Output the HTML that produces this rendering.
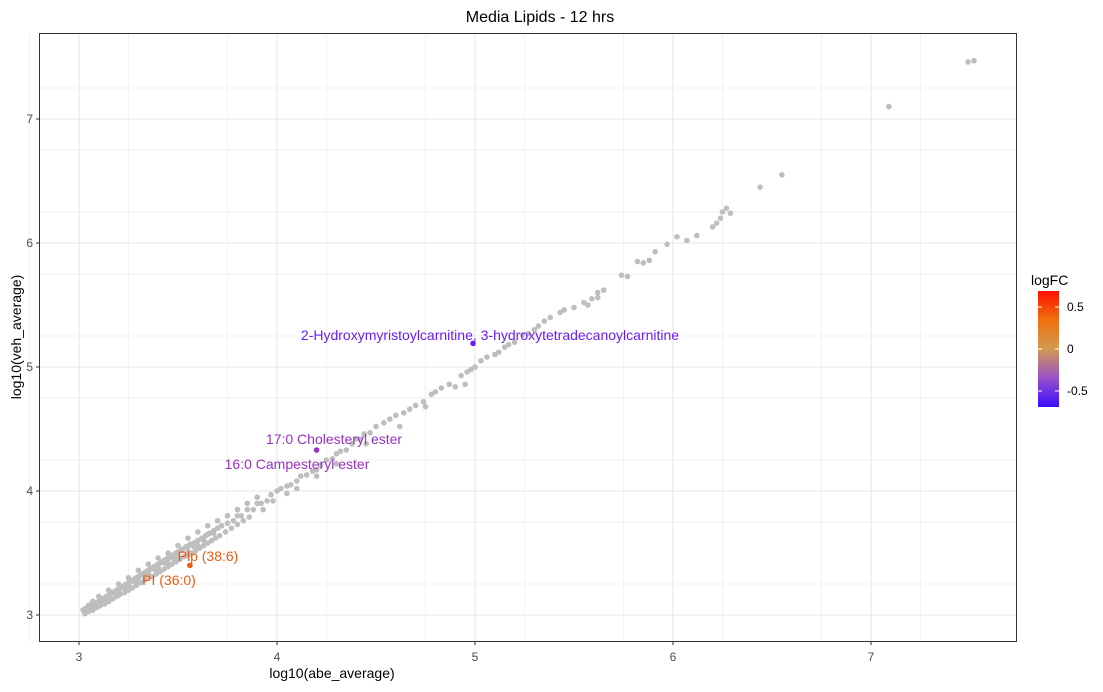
<!DOCTYPE html>
<html><head><meta charset="utf-8"><style>
body{margin:0;background:#fff;font-family:"Liberation Sans",Arial,sans-serif}
svg text{font-family:"Liberation Sans",Arial,sans-serif}
</style></head><body>
<svg id="chart" width="1103" height="687">
<defs><linearGradient id="gr" x1="0" y1="1" x2="0" y2="0">
<stop offset="0" stop-color="#3a0cff"/><stop offset="0.25" stop-color="#9a50c8"/><stop offset="0.5" stop-color="#d09a50"/><stop offset="0.75" stop-color="#f07010"/><stop offset="1" stop-color="#ff1000"/></linearGradient></defs>
<text x="540" y="22" text-anchor="middle" font-size="16" fill="#000">Media Lipids - 12 hrs</text>
<g id="grid"></g><g id="pts"></g><g id="hl"></g>
<rect x="39.5" y="33.5" width="977" height="608" fill="none" stroke="#333" stroke-width="1"/>
<g id="axes"></g>
<text x="332" y="678" text-anchor="middle" font-size="14" fill="#000">log10(abe_average)</text>
<text transform="translate(21,337) rotate(-90)" text-anchor="middle" font-size="14" fill="#000">log10(veh_average)</text>
<g>
<text x="1031" y="285" font-size="14" fill="#000">logFC</text>
<rect x="1038" y="291" width="21" height="116" fill="url(#gr)"/>
<g id="leg"></g></g>
</svg>
<script>
const xTicks=[3,4,5,6,7];
const yTicks=[3,4,5,6,7];
const legTicks=[0.5,0,-0.5];
const abe=[7.52,7.49,7.09,6.55,6.44,6.29,6.27,6.25,6.24,6.22,6.2,6.12,6.07,6.02,5.97,5.91,5.88,5.82,5.85,5.74,5.77,5.65,5.62,5.59,5.55,5.62,5.57,5.5,5.45,5.43,5.38,5.35,5.32,5.3,5.27,5.24,5.2,5.17,5.15,5.12,5.1,5.06,5.03,5.0,4.98,4.96,4.93,4.95,4.9,4.87,4.83,4.8,4.78,4.74,4.7,4.67,4.64,4.6,4.57,4.54,4.5,4.47,4.44,4.42,4.4,4.38,4.35,4.32,4.3,4.28,4.25,4.22,4.2,4.18,4.15,4.12,4.1,4.07,4.05,4.02,4.0,3.97,3.95,3.92,3.9,3.88,3.85,3.82,3.8,3.78,3.75,3.72,3.7,3.68,3.65,3.63,3.6,3.58,3.55,3.52,3.5,3.48,3.45,3.43,3.4,3.38,3.35,3.33,3.3,3.28,3.25,3.23,3.2,3.18,3.15,3.13,3.1,3.08,3.06,3.04,3.03,3.9,3.85,3.8,3.75,3.7,3.65,3.6,3.55,3.5,3.45,3.4,3.35,3.3,3.25,3.2,3.15,3.1,3.07,3.05,3.6,3.55,3.5,3.45,3.4,3.35,3.3,3.25,3.2,3.15,3.1,3.07,4.1,4.2,4.3,4.45,4.62,4.75,3.98,4.05,3.93,
3.02,3.03,3.04,3.05,3.06,3.07,3.08,3.09,3.1,3.11,3.12,3.13,3.14,3.15,3.16,3.17,3.18,3.19,3.2,3.21,3.22,3.23,3.24,3.25,3.26,3.27,3.28,3.29,3.3,3.31,3.32,3.33,3.34,3.35,3.36,3.37,3.38,3.39,3.4,3.41,3.42,3.43,3.44,3.45,3.46,3.47,3.48,3.49,3.5,3.52,3.54,3.56,3.58,3.6,3.62,3.64,3.66,3.68,3.7,3.72,
3.03,3.05,3.07,3.09,3.11,3.13,3.15,3.17,3.19,3.21,3.23,3.25,3.27,3.29,3.31,3.33,3.35,3.37,3.39,3.41,3.43,3.45,3.47,3.49,3.51,3.53,3.55,3.57,3.59,3.61,3.63,3.65,3.67,3.69,3.71,3.74,3.77,3.8,3.83,3.86];
const veh=[7.47,7.46,7.10,6.55,6.45,6.24,6.28,6.25,6.2,6.16,6.13,6.06,6.02,6.05,5.99,5.93,5.86,5.85,5.84,5.74,5.73,5.62,5.56,5.55,5.52,5.6,5.5,5.48,5.46,5.44,5.4,5.37,5.33,5.3,5.27,5.26,5.2,5.18,5.16,5.12,5.1,5.08,5.05,5.0,4.98,4.96,4.93,4.86,4.84,4.86,4.83,4.8,4.78,4.72,4.69,4.66,4.63,4.61,4.58,4.55,4.52,4.47,4.46,4.42,4.42,4.38,4.33,4.32,4.3,4.26,4.25,4.21,4.17,4.16,4.13,4.12,4.08,4.05,4.04,4.02,4.0,3.97,3.92,3.9,3.9,3.85,3.85,3.8,3.8,3.76,3.74,3.72,3.7,3.66,3.65,3.6,3.6,3.55,3.55,3.52,3.5,3.45,3.45,3.42,3.38,3.37,3.33,3.32,3.3,3.27,3.25,3.22,3.2,3.18,3.15,3.12,3.1,3.08,3.05,3.03,3.02,3.95,3.9,3.85,3.8,3.76,3.72,3.67,3.62,3.56,3.5,3.46,3.41,3.36,3.3,3.25,3.2,3.15,3.11,3.08,3.56,3.51,3.46,3.41,3.36,3.31,3.26,3.21,3.16,3.11,3.07,3.04,4.02,4.12,4.22,4.38,4.52,4.68,3.92,3.98,3.85,
3.04,3.05,3.06,3.07,3.08,3.08,3.09,3.1,3.11,3.12,3.13,3.14,3.15,3.16,3.17,3.18,3.19,3.2,3.21,3.22,3.23,3.24,3.25,3.26,3.27,3.28,3.29,3.3,3.31,3.32,3.33,3.34,3.35,3.36,3.37,3.38,3.39,3.4,3.41,3.42,3.43,3.44,3.45,3.46,3.47,3.48,3.49,3.5,3.51,3.53,3.55,3.57,3.58,3.6,3.62,3.64,3.66,3.68,3.7,3.72,
3.01,3.03,3.04,3.06,3.08,3.09,3.11,3.13,3.15,3.17,3.18,3.2,3.22,3.24,3.26,3.28,3.3,3.31,3.33,3.35,3.37,3.39,3.41,3.43,3.45,3.47,3.48,3.5,3.52,3.54,3.56,3.58,3.6,3.62,3.64,3.67,3.7,3.73,3.76,3.79];
const hlX=[4.99,4.2,3.56];
const hlY=[5.19,4.33,3.40];
const hlC=["#6a1cf5","#9a30c0","#f05a10"];
const X=v=>79+(v-3)*198, Y=v=>615-(v-3)*124;
const NS="http://www.w3.org/2000/svg";
function mk(t,a,p){const e=document.createElementNS(NS,t);for(const k in a)e.setAttribute(k,a[k]);p.appendChild(e);return e;}
const grid=document.getElementById('grid'),axes=document.getElementById('axes');
[2.75,3.25,3.75,4.25,4.75,5.25,5.75,6.25,6.75,7.25].forEach(v=>{const l=mk('line',{x1:X(v),x2:X(v),y1:34,y2:641,stroke:'#f2f2f2'},grid);});
[2.75,3.25,3.75,4.25,4.75,5.25,5.75,6.25,6.75,7.25].forEach(v=>{const y=Y(v);if(y>34&&y<641){const l=mk('line',{x1:40,x2:1016,y1:y,y2:y,stroke:'#f2f2f2'},grid);}});
xTicks.forEach(v=>{const l=mk('line',{x1:X(v),x2:X(v),y1:34,y2:641,stroke:'#e6e6e6'},grid);
const t=mk('line',{x1:X(v),x2:X(v),y1:642,y2:645,stroke:'#333'},axes);
const s=mk('text',{x:X(v),y:661,'text-anchor':'middle','font-size':12,fill:'#4d4d4d'},axes);s.textContent=v;});
yTicks.forEach(v=>{const l=mk('line',{x1:40,x2:1016,y1:Y(v),y2:Y(v),stroke:'#e6e6e6'},grid);
const t=mk('line',{x1:36,x2:39,y1:Y(v),y2:Y(v),stroke:'#333'},axes);
const s=mk('text',{x:33,y:Y(v)+4,'text-anchor':'end','font-size':12,fill:'#4d4d4d'},axes);s.textContent=v;});
const pts=document.getElementById('pts');
abe.forEach((v,i)=>{const c=mk('circle',{cx:X(v),cy:Y(veh[i]),r:2.8,fill:'#bebebe'},pts);});
const hl=document.getElementById('hl');
hlX.forEach((v,i)=>{const c=mk('circle',{cx:X(v),cy:Y(hlY[i]),r:2.8,fill:hlC[i]},hl);});
const labels=[["2-Hydroxymyristoylcarnitine, 3-hydroxytetradecanoylcarnitine",490,340,"#6a1cf5"],["17:0 Cholesteryl ester",334,444,"#9a30c0"],["16:0 Campesteryl ester",297,469,"#9a30c0"],["Plp (38:6)",208,561,"#f05a10"],["PI (36:0)",169,585,"#f05a10"]];
labels.forEach(l=>{const t=mk('text',{x:l[1],y:l[2],'text-anchor':'middle','font-size':14,fill:l[3]},hl);t.textContent=l[0];});
mk('line',{x1:X(3.56),x2:X(3.56),y1:Y(3.40),y2:563,stroke:'#f05a10'},hl);
const leg=document.getElementById('leg');
const L=v=>349-v*84;
legTicks.forEach(v=>{mk('line',{x1:1038,x2:1042,y1:L(v),y2:L(v),stroke:'#fff'},leg);mk('line',{x1:1055,x2:1059,y1:L(v),y2:L(v),stroke:'#fff'},leg);
const t=mk('text',{x:1067,y:L(v)+4,'font-size':12,fill:'#000'},leg);t.textContent=v;});
</script>
</body></html>
